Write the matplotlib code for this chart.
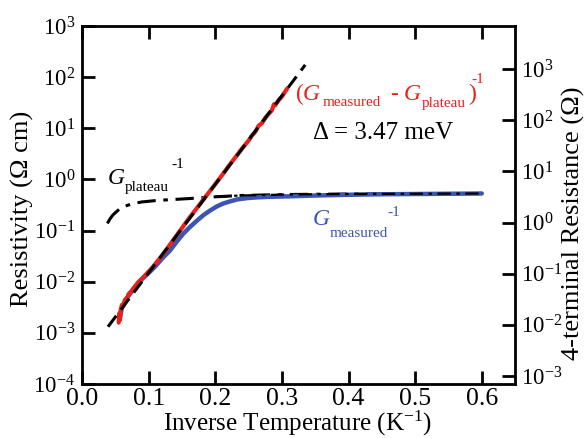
import numpy as np
import matplotlib
matplotlib.use("Agg")
import matplotlib.pyplot as plt

plt.rcParams["font.family"] = ["Liberation Serif", "DejaVu Serif"]
plt.rcParams["mathtext.fontset"] = "custom"
plt.rcParams["mathtext.rm"] = "Liberation Serif"
plt.rcParams["mathtext.it"] = "Liberation Serif:italic"
plt.rcParams["axes.unicode_minus"] = False

# --- data (x = 1/T in 1/K, values are log10 of resistivity) ---
red_x = [0.055, 0.056, 0.057, 0.058, 0.060, 0.062, 0.064, 0.066, 0.068, 0.070,
         0.073, 0.076, 0.080, 0.085, 0.090, 0.095, 0.100, 0.105, 0.110, 0.120,
         0.130, 0.140, 0.150, 0.160, 0.170, 0.180, 0.190, 0.200, 0.210, 0.220,
         0.230, 0.240, 0.250, 0.255, 0.260, 0.265, 0.270, 0.275, 0.280, 0.285,
         0.288, 0.290, 0.295, 0.300, 0.305, 0.308]
red_log = [-2.80, -2.62, -2.75, -2.55, -2.45, -2.48, -2.36, -2.33, -2.30, -2.24,
           -2.20, -2.15, -2.08, -2.00, -1.94, -1.87, -1.80, -1.73, -1.65, -1.49,
           -1.31, -1.13, -0.95, -0.77, -0.60, -0.43, -0.26, -0.09, 0.08, 0.26,
           0.43, 0.60, 0.76, 0.86, 0.93, 1.05, 1.10, 1.20, 1.28, 1.35,
           1.47, 1.45, 1.55, 1.62, 1.72, 1.78]

blue_x = [0.057, 0.060, 0.070, 0.080, 0.090, 0.100, 0.110, 0.120, 0.132, 0.142,
          0.152, 0.162, 0.173, 0.182, 0.192, 0.202, 0.212, 0.222, 0.233, 0.248,
          0.263, 0.280, 0.312, 0.350, 0.400, 0.450, 0.500, 0.550, 0.600]
blue_log = [-2.70, -2.50, -2.27, -2.10, -1.95, -1.83, -1.70, -1.55, -1.39, -1.22,
            -1.06, -0.93, -0.80, -0.70, -0.61, -0.53, -0.47, -0.43, -0.39, -0.365,
            -0.35, -0.34, -0.33, -0.315, -0.30, -0.29, -0.285, -0.28, -0.275]

plateau_x = [0.038, 0.042, 0.046, 0.050, 0.057, 0.065, 0.077, 0.090, 0.113, 0.140,
             0.162, 0.200, 0.237, 0.312, 0.400, 0.500, 0.600]
plateau_log = [-0.86, -0.77, -0.70, -0.65, -0.57, -0.52, -0.47, -0.44, -0.41, -0.39,
               -0.373, -0.34, -0.314, -0.294, -0.285, -0.28, -0.275]

fit_x = [0.039, 0.335]
fit_log = [-2.88, 2.24]

# right axis is the same data in ohms (geometry factor)
right_factor = 10 ** 0.843

red = "#e8211d"
blue = "#3d55b2"

fig = plt.figure(figsize=(5.86, 4.38), dpi=100)
ax = fig.add_axes([0.140, 0.1233, 0.739, 0.8173])

ax.plot(plateau_x, 10 ** np.array(plateau_log), color="black", lw=2.2,
        dashes=(6, 2.5, 1.5, 2.5))
ax.plot(blue_x, 10 ** np.array(blue_log), color=blue, lw=3.2,
        solid_capstyle="round")
ax.plot(red_x, 10 ** np.array(red_log), color=red, lw=3.0,
        solid_capstyle="round")
ax.plot(plateau_x[-6:], 10 ** np.array(plateau_log[-6:]), color="black", lw=1.6,
        dashes=(6, 2.5, 1.5, 2.5))
ax.plot(fit_x, 10 ** np.array(fit_log), color="black", lw=2.2, dashes=(4.5, 2.5))

ax.set_yscale("log")
ax.set_xlim(0.0, 0.65)
ax.set_ylim(1e-4, 1e3)
ax.set_xticks([0.0, 0.1, 0.2, 0.3, 0.4, 0.5, 0.6])
ax.set_xticklabels(["0.0", "0.1", "0.2", "0.3", "0.4", "0.5", "0.6"])
ax.set_yticks([10.0 ** k for k in range(-4, 4)])
ax.yaxis.set_minor_locator(matplotlib.ticker.NullLocator())
ax.tick_params(axis="both", which="major", direction="in", length=9.5, width=2.0,
               top=True, right=False, pad=3)
ax.tick_params(axis="x", labelsize=18.5)
ax.tick_params(axis="y", labelsize=16.5, pad=5)
for sp in ax.spines.values():
    sp.set_linewidth(2.0)

ax.set_xlabel("Inverse Temperature (K$^{-1}$)", fontsize=18)
ax.xaxis.label.set_va("center")
ax.xaxis.set_label_coords(0.497, -0.11)
ax.set_ylabel("Resistivity (\u03a9 cm)", fontsize=19)
ax.yaxis.label.set_va("center")
ax.yaxis.set_label_coords(-0.138, 0.488)

ax2 = ax.twinx()
ax2.set_yscale("log")
ax2.set_ylim(1e-4 * right_factor, 1e3 * right_factor)
ax2.set_yticks([10.0 ** k for k in range(-3, 4)])
ax2.yaxis.set_minor_locator(matplotlib.ticker.NullLocator())
ax2.tick_params(axis="y", direction="in", length=9.5, width=2.0, labelsize=16.5, pad=4)
ax2.set_ylabel("4-terminal Resistance (\u03a9)", fontsize=19, rotation=90)
ax2.yaxis.label.set_va("center")
ax2.yaxis.set_label_coords(1.134, 0.45)

# annotations
ax.text(0.0375, 10 ** -0.08, "$G$", fontsize=17, color="black")
ax.text(0.0646, 10 ** -0.235, "plateau", fontsize=11, color="black")
ax.text(0.134, 10 ** 0.216, "-1", fontsize=11, color="black")

ax.text(0.320, 10 ** 1.55, "($G$", fontsize=17, color=red)
ax.text(0.3604, 10 ** 1.43, "measured", fontsize=11, color=red)
ax.text(0.4625, 10 ** 1.55, "- $G$", fontsize=17, color=red)
ax.text(0.5105, 10 ** 1.41, "plateau", fontsize=11, color=red)
ax.text(0.579, 10 ** 1.55, ")", fontsize=17, color=red)
ax.text(0.585, 10 ** 1.88, "-1", fontsize=11, color=red)

ax.text(0.347, 10 ** 0.80, "\u0394 = 3.47 meV", fontsize=18, color="black")

ax.text(0.345, 10 ** -0.90, "$G$", fontsize=17, color=blue)
ax.text(0.372, 10 ** -1.12, "measured", fontsize=11, color=blue)
ax.text(0.459, 10 ** -0.706, "-1", fontsize=11, color=blue)

fig.savefig("out.png", dpi=100)
